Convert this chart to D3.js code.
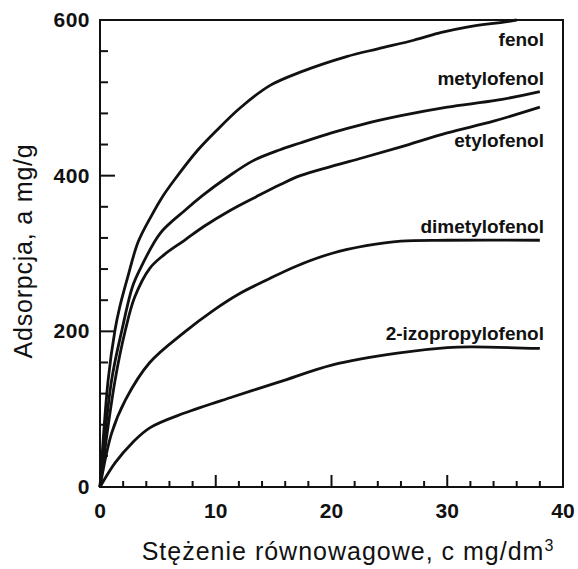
<!DOCTYPE html>
<html>
<head>
<meta charset="utf-8">
<script src="https://cdn.jsdelivr.net/npm/d3@7"></script>
<style>
  body { margin: 0; background: #fff; }
  svg { display: block; font-family: "Liberation Sans", Arial, sans-serif; }
</style>
</head>
<body>
<script>
// curve labels in drawing order
var names = ['fenol', 'metylofenol', 'etylofenol', 'dimetylofenol', '2-izopropylofenol'];

// equilibrium concentration c (mg/dm3) and adsorption a (mg/g)
var fenolC = [0, 0.7, 1.3, 1.7, 2.4, 3.3, 4.5, 5.4, 6.5, 8.4, 10, 12.1, 14.7, 17.3, 21.3, 24, 27.1, 29.5, 31.7, 35.2, 36];
var fenolA = [0, 137, 202, 231, 270, 315, 350, 373, 396, 432, 457, 487, 516, 533, 553, 563, 574, 584, 591, 598, 600];

var metylC = [0, 1.0, 1.9, 2.8, 3.5, 5.2, 7.3, 8.9, 11, 13.2, 15.5, 17.3, 20, 22.7, 26, 30, 34.3, 38];
var metylA = [0, 137, 202, 257, 281, 326, 355, 375, 398, 419, 433, 442, 455, 466, 477, 488, 497, 508];

var etylC = [0, 1.3, 2.2, 3.0, 4.3, 5.5, 7.3, 9, 11.2, 13.5, 15.5, 17.3, 20, 22.7, 26, 30, 34, 38];
var etylA = [0, 137, 202, 244, 281, 298, 317, 335, 355, 373, 388, 400, 412, 423, 437, 455, 470, 488];

var dimetC = [0, 1.0, 2.2, 4.3, 7.3, 9.8, 12, 14.4, 17, 20, 23, 26, 30, 38];
var dimetA = [0, 69, 112, 160, 199, 227, 248, 266, 284, 300, 310, 316, 317, 317];

var izoC = [0, 1.3, 2.8, 4.3, 7.3, 11.5, 15.5, 20.1, 25.7, 30, 32, 38];
var izoA = [0, 31, 57, 76, 95, 116, 135, 157, 172, 179, 180, 178];

var xTicks = [0, 10, 20, 30, 40];
var yTicks = [0, 200, 400, 600];

var width = 578, height = 569;
// plot frame (window.top is reserved, hence the prefixes)
var plotL = 100, plotR = 563, plotT = 20, plotB = 487;

var svg = d3.select('body').append('svg')
  .attr('width', width)
  .attr('height', height);

var x = d3.scaleLinear().domain([0, 40]).range([plotL, plotR]);
var y = d3.scaleLinear().domain([0, 600]).range([plotB, plotT]);

var series = [
  {name: names[0], c: fenolC, a: fenolA},
  {name: names[1], c: metylC, a: metylA},
  {name: names[2], c: etylC, a: etylA},
  {name: names[3], c: dimetC, a: dimetA},
  {name: names[4], c: izoC, a: izoA}
];

// frame
svg.append('rect')
  .attr('x', plotL).attr('y', plotT)
  .attr('width', plotR - plotL).attr('height', plotB - plotT)
  .attr('fill', 'none').attr('stroke', '#111').attr('stroke-width', 2);

// inward ticks: every 2 units on x (long at 10s), every 40 on y (long at 200s)
var tickG = svg.append('g');

tickG.selectAll('line.xt').data(d3.range(2, 40, 2)).enter().append('line')
  .attr('class', 'xt')
  .attr('x1', (d) => x(d)).attr('x2', (d) => x(d))
  .attr('y1', plotB)
  .attr('y2', (d) => plotB - (d % 10 === 0 ? 12 : 6))
  .style('stroke', '#111').style('stroke-width', '2px');

tickG.selectAll('line.yt').data(d3.range(40, 600, 40)).enter().append('line')
  .attr('class', 'yt')
  .attr('y1', (d) => y(d)).attr('y2', (d) => y(d))
  .attr('x1', plotL)
  .attr('x2', (d) => plotL + (d % 200 === 0 ? 15 : 8))
  .style('stroke', '#111').style('stroke-width', '2px');

// tick labels
svg.selectAll('.xlab').data(xTicks).enter().append('text')
  .attr('x', (d) => x(d))
  .attr('y', 518)
  .attr('text-anchor', 'middle')
  .attr('font-size', 21)
  .attr('font-weight', 'bold')
  .attr('fill', '#111')
  .text((d) => d);

svg.selectAll('.ylab').data(yTicks).enter().append('text')
  .attr('x', 90)
  .attr('y', (d) => y(d) + 7)
  .attr('text-anchor', 'end')
  .attr('font-size', 21)
  .attr('font-weight', 'bold')
  .attr('letter-spacing', 0.5)
  .attr('fill', '#111')
  .text((d) => d);

// curves
var line = d3.line()
  .x((d) => x(d[0]))
  .y((d) => y(d[1]))
  .curve(d3.curveCatmullRom.alpha(0.5));

svg.append('g').selectAll('path')
  .data(series)
  .enter()
  .append('path')
  .attr('d', (s) => line(s.c.map((c, i) => [c, s.a[i]])))
  .attr('fill', 'none')
  .attr('stroke', '#111')
  .attr('stroke-width', 2.8)
  .attr('stroke-linejoin', 'round');

// curve labels, right aligned near the frame
var labelY = [46, 85, 147, 233, 340];
svg.selectAll('.clab').data(series).enter().append('text')
  .attr('x', 544)
  .attr('y', (d, i) => labelY[i])
  .attr('text-anchor', 'end')
  .attr('font-size', 19)
  .attr('font-weight', 'bold')
  .attr('fill', '#111')
  .text((d) => d.name);

// axis titles
var xt = svg.append('text')
  .attr('x', 348)
  .attr('y', 560)
  .attr('text-anchor', 'middle')
  .attr('font-size', 25)
  .attr('letter-spacing', 1)
  .attr('fill', '#111');
xt.append('tspan').text('Stężenie równowagowe, c mg/dm');
xt.append('tspan').attr('dy', -9).attr('font-size', 16).text('3');

svg.append('text')
  .attr('transform', 'translate(32,251) rotate(-90)')
  .attr('text-anchor', 'middle')
  .attr('font-size', 25)
  .attr('letter-spacing', 0.8)
  .attr('fill', '#111')
  .text('Adsorpcja, a mg/g');
</script>
</body>
</html>
